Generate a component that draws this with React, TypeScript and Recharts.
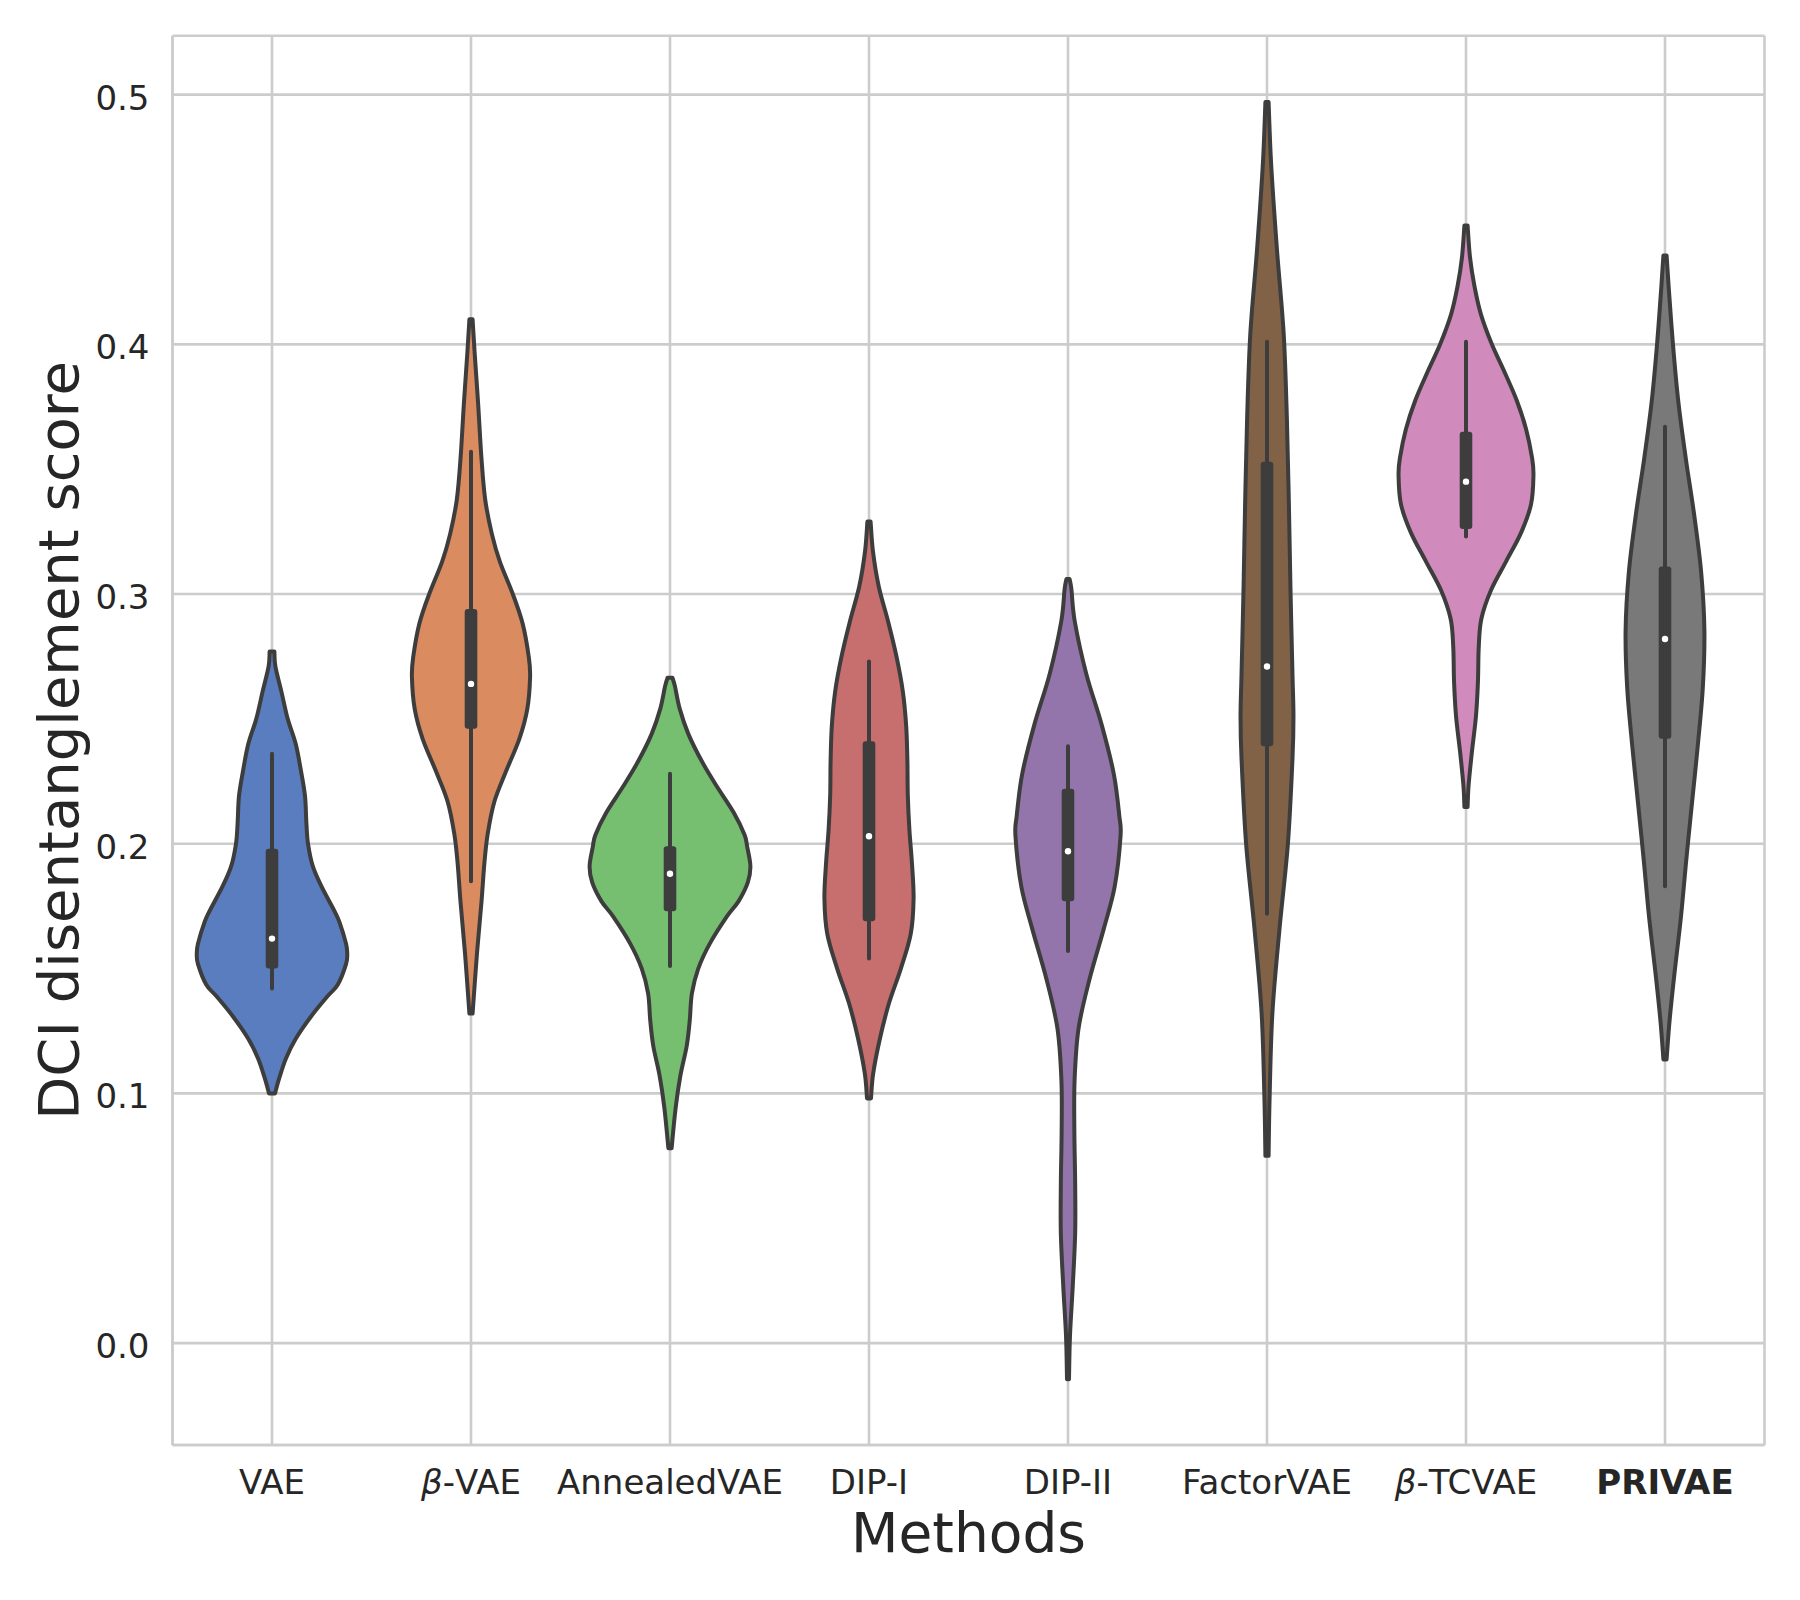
import React from 'react';
import { ComposedChart, Bar, XAxis, YAxis, CartesianGrid, Label } from 'recharts';

// categories and per-method summary values
const methods = ['VAE', 'β-VAE', 'AnnealedVAE', 'DIP-I', 'DIP-II', 'FactorVAE', 'β-TCVAE', 'PRIVAE'];
const fillColors = ['#597dbf', '#da8b5f', '#76bf71', '#c76e6e', '#9475ab', '#826246', '#d08abb', '#797979'];

const whiskerLow = [0.142, 0.185, 0.151, 0.154, 0.157, 0.172, 0.323, 0.183];
const boxLow = [0.150, 0.246, 0.173, 0.169, 0.177, 0.239, 0.326, 0.242];
const medians = [0.162, 0.264, 0.188, 0.203, 0.197, 0.271, 0.345, 0.282];
const boxHigh = [0.198, 0.294, 0.199, 0.241, 0.222, 0.353, 0.365, 0.311];
const whiskerHigh = [0.236, 0.357, 0.228, 0.273, 0.239, 0.401, 0.401, 0.367];

// density outlines: [score, half width as fraction of category band], top to bottom
const vaeProfile = [
  [0.277, 0.012], [0.271, 0.017], [0.261, 0.047], [0.250, 0.079], [0.240, 0.119], [0.229, 0.146],
  [0.219, 0.166], [0.208, 0.173], [0.200, 0.181], [0.191, 0.205], [0.183, 0.248], [0.173, 0.314],
  [0.1686, 0.339], [0.160, 0.372], [0.156, 0.378], [0.1518, 0.372], [0.1435, 0.33], [0.139, 0.28],
  [0.131, 0.198], [0.122, 0.12], [0.114, 0.07], [0.106, 0.036], [0.100, 0.015],
];
const betaVaeProfile = [
  [0.410, 0.008], [0.397, 0.018], [0.376, 0.036], [0.355, 0.052], [0.338, 0.071], [0.324, 0.105],
  [0.313, 0.145], [0.300, 0.21], [0.288, 0.26], [0.275, 0.29], [0.267, 0.297], [0.254, 0.283],
  [0.242, 0.243], [0.229, 0.176], [0.217, 0.118], [0.204, 0.084], [0.192, 0.067], [0.177, 0.053],
  [0.156, 0.03], [0.132, 0.008],
];
const annealedProfile = [
  [0.2665, 0.012], [0.263, 0.025], [0.254, 0.049], [0.244, 0.092], [0.233, 0.16], [0.223, 0.235],
  [0.2125, 0.32], [0.2035, 0.375], [0.1987, 0.388], [0.191, 0.404], [0.1845, 0.391], [0.177, 0.345],
  [0.171, 0.287], [0.160, 0.2], [0.150, 0.142], [0.140, 0.11], [0.129, 0.099], [0.119, 0.084],
  [0.107, 0.052], [0.094, 0.028], [0.078, 0.008],
];
const dip1Profile = [
  [0.329, 0.008], [0.317, 0.02], [0.303, 0.049], [0.289, 0.096], [0.275, 0.138], [0.261, 0.17],
  [0.247, 0.187], [0.233, 0.193], [0.2195, 0.195], [0.2056, 0.203], [0.192, 0.216], [0.178, 0.224],
  [0.164, 0.21], [0.150, 0.16], [0.136, 0.1], [0.122, 0.055], [0.108, 0.021], [0.098, 0.01],
];
const dip2Profile = [
  [0.306, 0.008], [0.302, 0.017], [0.289, 0.034], [0.268, 0.092], [0.248, 0.168], [0.228, 0.23],
  [0.211, 0.258], [0.203, 0.264], [0.183, 0.235], [0.166, 0.18], [0.146, 0.109], [0.126, 0.053],
  [0.105, 0.033], [0.0845, 0.032], [0.064, 0.036], [0.044, 0.036], [0.023, 0.024], [0.003, 0.01],
  [-0.0145, 0.005],
];
const factorProfile = [
  [0.497, 0.008], [0.472, 0.021], [0.438, 0.05], [0.404, 0.084], [0.370, 0.1], [0.336, 0.11],
  [0.302, 0.118], [0.268, 0.128], [0.251, 0.133], [0.234, 0.128], [0.200, 0.105], [0.166, 0.063],
  [0.132, 0.027], [0.098, 0.013], [0.075, 0.008],
];
const betaTcProfile = [
  [0.4476, 0.008], [0.435, 0.02], [0.4235, 0.042], [0.412, 0.075], [0.400, 0.13], [0.389, 0.193],
  [0.3775, 0.255], [0.366, 0.302], [0.3545, 0.332], [0.3476, 0.339], [0.336, 0.327], [0.3246, 0.277],
  [0.313, 0.201], [0.3016, 0.126], [0.290, 0.077], [0.2786, 0.064], [0.2648, 0.06], [0.251, 0.05],
  [0.237, 0.03], [0.2234, 0.013], [0.2147, 0.008],
];
const privaeProfile = [
  [0.4356, 0.008], [0.4235, 0.018], [0.400, 0.04], [0.377, 0.067], [0.354, 0.105], [0.3315, 0.147],
  [0.3085, 0.182], [0.2855, 0.198], [0.2625, 0.19], [0.2395, 0.165], [0.2166, 0.136], [0.1936, 0.107],
  [0.1706, 0.08], [0.1476, 0.047], [0.1292, 0.023], [0.1136, 0.008],
];
const profiles = [vaeProfile, betaVaeProfile, annealedProfile, dip1Profile, dip2Profile, factorProfile, betaTcProfile, privaeProfile];

const yTicks = [0, 0.1, 0.2, 0.3, 0.4, 0.5];
const yDomain = [-0.0408, 0.5236];

const chartData = methods.map((m, i) => {
  const prof = profiles[i];
  return {
    method: m,
    range: [prof[prof.length - 1][0], prof[0][0]],
    profile: prof,
    color: fillColors[i],
    wLow: whiskerLow[i],
    bLow: boxLow[i],
    med: medians[i],
    bHigh: boxHigh[i],
    wHigh: whiskerHigh[i],
  };
});

const FONT = '"DejaVu Sans", sans-serif';
const TEXT = '#262626';
const EDGE = '#3d3d3d';
const GRID = '#cccccc';

// catmull-rom through the points, continuing an existing path
const smoothSegs = (pts: number[][]) => {
  let d = '';
  for (let i = 0; i < pts.length - 1; i++) {
    const p0 = pts[i - 1] || pts[i];
    const p1 = pts[i];
    const p2 = pts[i + 1];
    const p3 = pts[i + 2] || p2;
    const c1x = p1[0] + (p2[0] - p0[0]) / 6;
    const c1y = p1[1] + (p2[1] - p0[1]) / 6;
    const c2x = p2[0] - (p3[0] - p1[0]) / 6;
    const c2y = p2[1] - (p3[1] - p1[1]) / 6;
    d += ` C${c1x},${c1y} ${c2x},${c2y} ${p2[0]},${p2[1]}`;
  }
  return d;
};

const Violin = (props: any) => {
  const { x, y, width, height, payload } = props;
  if (!payload) return null;
  const [lo, hi] = payload.range;
  const top = Math.min(y, y + height);
  const bottom = Math.max(y, y + height);
  const toY = (v: number) => top + ((hi - v) / (hi - lo)) * (bottom - top);
  const cx = x + width / 2;

  const right = payload.profile.map(([v, w]: number[]) => [cx + w * width, toY(v)]);
  const left = payload.profile.map(([v, w]: number[]) => [cx - w * width, toY(v)]).reverse();
  const d =
    `M${right[0][0]},${right[0][1]}` +
    smoothSegs(right) +
    ` L${left[0][0]},${left[0][1]}` +
    smoothSegs(left) +
    ' Z';

  const boxTop = toY(payload.bHigh);
  const boxBottom = toY(payload.bLow);
  return (
    <g>
      <path d={d} fill={payload.color} stroke={EDGE} strokeWidth={4} strokeLinejoin="round" />
      <line x1={cx} x2={cx} y1={toY(payload.wHigh)} y2={toY(payload.wLow)} stroke={EDGE} strokeWidth={4} strokeLinecap="round" />
      <rect x={cx - 6.3} y={boxTop} width={12.6} height={boxBottom - boxTop} rx={3} fill={EDGE} />
      <circle cx={cx} cy={toY(payload.med)} r={3.2} fill="#ffffff" />
    </g>
  );
};

const XTick = (props: any) => {
  const { x, y, payload } = props;
  const label: string = payload.value;
  let content: React.ReactNode = label;
  let weight: any = 'normal';
  if (label.startsWith('β')) {
    content = (
      <>
        <tspan fontStyle="italic">β</tspan>
        <tspan>{label.slice(1)}</tspan>
      </>
    );
  }
  if (label === 'PRIVAE') weight = 'bold';
  return (
    <text x={x} y={y + 49} textAnchor="middle" fontFamily={FONT} fontSize={34} fontWeight={weight} fill={TEXT}>
      {content}
    </text>
  );
};

const YTick = (props: any) => {
  const { x, y, payload } = props;
  return (
    <text x={x - 23} y={y + 15} textAnchor="end" fontFamily={FONT} fontSize={34} fill={TEXT}>
      {Number(payload.value).toFixed(1)}
    </text>
  );
};

const XTitle = (props: any) => {
  const vb = props.viewBox || {};
  return (
    <text x={vb.x + vb.width / 2} y={vb.y + 107} textAnchor="middle" fontFamily={FONT} fontSize={55} fill={TEXT}>
      Methods
    </text>
  );
};

const YTitle = (props: any) => {
  const vb = props.viewBox || {};
  const cy = vb.y + vb.height / 2;
  return (
    <text x={78} y={cy} transform={`rotate(-90, 78, ${cy})`} textAnchor="middle" fontFamily={FONT} fontSize={56} fill={TEXT}>
      DCI disentanglement score
    </text>
  );
};

export default function App() {
  return (
    <div style={{ position: 'absolute', left: 0, top: 0, width: 1800, height: 1600, background: '#ffffff' }}>
      <ComposedChart
        width={1800}
        height={1600}
        data={chartData}
        margin={{ top: 35.7, right: 35.5, bottom: 0, left: 0 }}
        barCategoryGap="0%"
        barGap={0}
      >
        <CartesianGrid xAxisId="bottom" yAxisId="left" stroke={GRID} strokeWidth={2.6} />
        <XAxis
          xAxisId="bottom"
          dataKey="method"
          type="category"
          height={155}
          axisLine={{ stroke: GRID, strokeWidth: 2.6 }}
          tickLine={false}
          tickSize={0}
          tickMargin={0}
          interval={0}
          tick={<XTick />}
        >
          <Label content={<XTitle />} />
        </XAxis>
        <XAxis
          xAxisId="top"
          dataKey="method"
          type="category"
          orientation="top"
          height={0}
          axisLine={{ stroke: GRID, strokeWidth: 2.6 }}
          tickLine={false}
          tick={false}
        />
        <YAxis
          yAxisId="left"
          type="number"
          width={172.5}
          domain={yDomain}
          ticks={yTicks}
          allowDataOverflow
          axisLine={{ stroke: GRID, strokeWidth: 2.6 }}
          tickLine={false}
          tickSize={0}
          tickMargin={0}
          tick={<YTick />}
        >
          <Label content={<YTitle />} />
        </YAxis>
        <YAxis
          yAxisId="right"
          type="number"
          orientation="right"
          width={0}
          domain={yDomain}
          allowDataOverflow
          axisLine={{ stroke: GRID, strokeWidth: 2.6 }}
          tickLine={false}
          tick={false}
        />
        <Bar
          xAxisId="bottom"
          yAxisId="left"
          dataKey="range"
          shape={<Violin />}
          isAnimationActive={false}
        />
      </ComposedChart>
    </div>
  );
}
